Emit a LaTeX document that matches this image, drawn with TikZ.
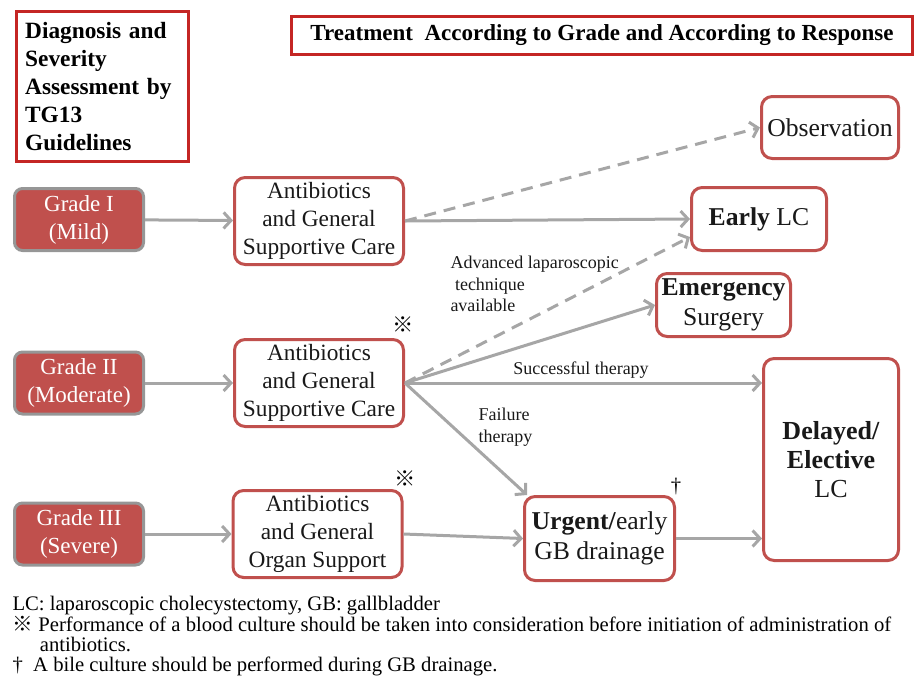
\documentclass[tikz,border=0pt]{standalone}
\usepackage{fontspec}
\setmainfont{Liberation Serif}
\newfontfamily\marksym{Noto Sans CJK JP}
\usetikzlibrary{arrows.meta}

\tikzset{every picture/.style={line width=0.75pt}}

\begin{document}
\begin{tikzpicture}[x=0.75pt,y=0.75pt,yscale=-1,xscale=1,
	hdrbox/.style={draw={rgb, 255:red, 196; green, 38; blue, 36 }, line width=2.25pt, inner sep=0pt},
	gradebox/.style={draw={rgb, 255:red, 150; green, 150; blue, 150 }, fill={rgb, 255:red, 192; green, 80; blue, 77 }, line width=2.25pt, rounded corners=6pt, text=white, align=center, inner sep=1pt, minimum width=96.75pt, minimum height=46.5pt, font=\fontsize{17.25}{21}\selectfont},
	outbox/.style={draw={rgb, 255:red, 192; green, 80; blue, 77 }, fill=white, line width=2.25pt, rounded corners=8pt, align=center, inner sep=1pt, text={rgb, 255:red, 25; green, 25; blue, 25 }},
	carebox/.style={outbox, minimum width=126.75pt, minimum height=65.25pt, font=\fontsize{17.5}{21}\selectfont},
	arr/.style={draw={rgb, 255:red, 166; green, 166; blue, 166 }, line width=2.25pt, -{Straight Barb[length=5.5pt,width=12pt]}},
	dasharr/.style={arr, dash pattern=on 9pt off 6pt},
	lbl/.style={inner sep=0.75pt, align=left, text={rgb, 255:red, 25; green, 25; blue, 25 }, font=\fontsize{13.5}{16}\selectfont}
	]
	\useasboundingbox (0,0) rectangle (917,678);

	%Shape: Rectangle [id:diag] 
	\node [hdrbox] [minimum width=129pt, minimum height=112.5pt, align=left, text width=116pt, font=\bfseries\fontsize{17.5}{21}\selectfont] (diag) at (102.5,86.5) {Diagnosis and\\Severity\\Assessment by\\TG13\\Guidelines};
	%Shape: Rectangle [id:title] 
	\node [hdrbox] [minimum width=466pt, minimum height=29pt, font=\bfseries\fontsize{17.25}{20}\selectfont] (title) at (602,35.5) {Treatment\ \ According to Grade and According to Response};

	%Shape: Rounded Rect [id:gradeI] 
	\node [gradebox] (gradeI) at (79,219.5) {Grade I\\(Mild)};
	%Shape: Rounded Rect [id:gradeII] 
	\node [gradebox] (gradeII) at (79,383) {Grade II\\(Moderate)};
	%Shape: Rounded Rect [id:gradeIII] 
	\node [gradebox] (gradeIII) at (79,534) {Grade III\\(Severe)};

	%Shape: Rounded Rect [id:careI] 
	\node [carebox] (careI) at (319,221) {Antibiotics\\and General\\Supportive Care};
	%Shape: Rounded Rect [id:careII] 
	\node [carebox] (careII) at (319,383) {Antibiotics\\and General\\Supportive Care};
	%Shape: Rounded Rect [id:careIII] 
	\node [carebox] (careIII) at (317.5,534) {Antibiotics\\and General\\Organ Support};

	%Shape: Rounded Rect [id:obs] 
	\node [outbox] [minimum width=102.75pt, minimum height=46.5pt, font=\fontsize{19.25}{22}\selectfont] (obs) at (830,127.5) {Observation};
	%Shape: Rounded Rect [id:earlylc] 
	\node [outbox] [minimum width=101.25pt, minimum height=47.25pt, font=\fontsize{19.25}{22}\selectfont] (earlylc) at (759,219) {\textbf{Early} LC};
	%Shape: Rounded Rect [id:emerg] 
	\node [outbox] [minimum width=100.5pt, minimum height=47.25pt, font=\fontsize{19.25}{23}\selectfont] (emerg) at (723.5,305) {\textbf{Emergency}\\Surgery};
	%Shape: Rounded Rect [id:delayed] 
	\node [outbox] [minimum width=101.25pt, minimum height=151.5pt, font=\fontsize{19.5}{22}\selectfont] (delayed) at (831,459.5) {\textbf{Delayed/}\\\textbf{Elective}\\LC};
	%Shape: Rounded Rect [id:urgent] 
	\node [outbox] [minimum width=112.5pt, minimum height=63pt, font=\fontsize{19.25}{22.5}\selectfont] (urgent) at (599.5,538.5) {\textbf{Urgent/}early\\GB drainage};

	%Straight Lines [id:arrows] 
	\draw [arr] (gradeI) -- (careI);
	\draw [arr] (gradeII) -- (careII);
	\draw [arr] (gradeIII) -- (careIII);
	\draw [dasharr] (careI.east) -- (obs.west);
	\draw [arr] (careI.east) -- (earlylc.west);
	\draw [dasharr] (careII.east) -- ([yshift=13.5pt]earlylc.west);
	\draw [arr] (careII.east) -- (emerg.west);
	\draw [arr] (careII.east) -- (careII.east -| delayed.west);
	\draw [arr] (careII.east) -- ([xshift=3pt]urgent.north west);
	\draw [arr] (careIII.east) -- (urgent.west);
	\draw [arr] (urgent.east) -- (urgent.east -| delayed.west);

	% Text Node
	\node [lbl] [anchor=west] (advlbl) at (449,284) {Advanced laparoscopic\\\ technique\\available};
	% Text Node
	\node [lbl] (succlbl) at (581,370) {Successful therapy};
	% Text Node
	\node [lbl] [anchor=west, font=\fontsize{13.5}{16.5}\selectfont] (faillbl) at (477,427) {Failure\\therapy};
	% Text Node
	\node [inner sep=0pt, font=\marksym\fontsize{16}{16}\selectfont] (markII) at (403,325) {※};
	% Text Node
	\node [inner sep=0pt, font=\marksym\fontsize{16}{16}\selectfont] (markIII) at (405,479) {※};
	% Text Node
	\node [inner sep=0pt, font=\fontsize{15.5}{15.5}\selectfont] (dagger) at (676,487) {†};

	% Text Node
	\node [anchor=north west] [inner sep=0pt] [align=left, font=\fontsize{15.5}{15.25}\selectfont] (notes) at (12,596) {LC: laparoscopic cholecystectomy, GB: gallbladder\\{\marksym ※} Performance of a blood culture should be taken into consideration before initiation of administration of\\\hspace{20.5pt}antibiotics.\\†\ \ A bile culture should be performed during GB drainage.};
\end{tikzpicture}
\end{document}
